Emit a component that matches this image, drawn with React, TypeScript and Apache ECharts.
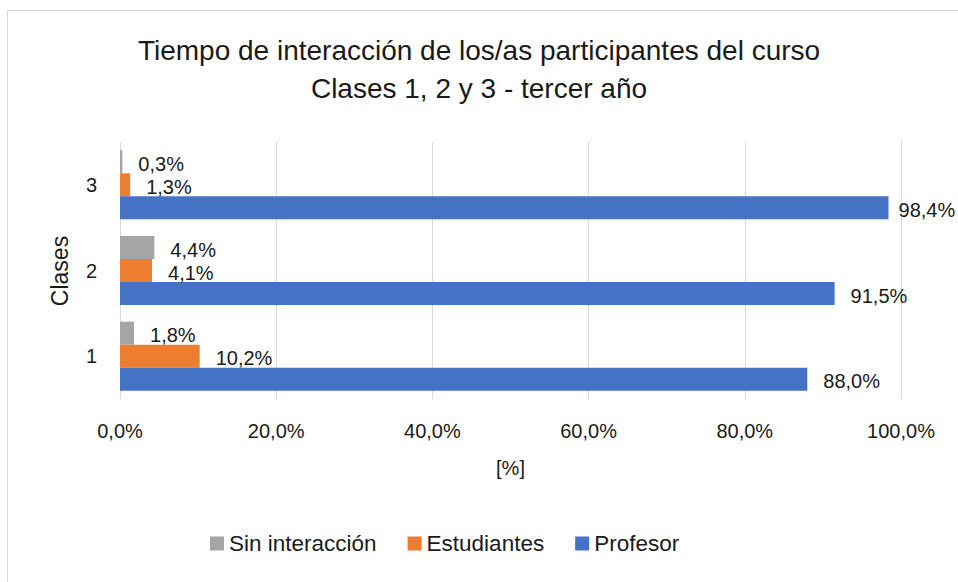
import React, { useEffect, useRef } from "react";
import * as echarts from "echarts";

const titleLines = ["Tiempo de interacción de los/as participantes del curso", "Clases 1, 2 y 3 - tercer año"];
const categories = ["1", "2", "3"];
const seriesNames = ["Sin interacción", "Estudiantes", "Profesor"];
const sinInteraccion = [1.8, 4.4, 0.3];
const estudiantes = [10.2, 4.1, 1.3];
const profesor = [88.0, 91.5, 98.4];
const seriesColors = ["#A5A5A5", "#ED7D31", "#4472C4"];
const xName = "[%]";
const yName = "Clases";

const FONT = "'Liberation Sans', Arial, sans-serif";
const TXT = "#1a1a1a";

const fmt = (v: number) => v.toFixed(1).replace(".", ",") + "%";

export default function App() {
  const ref = useRef<HTMLDivElement>(null);
  useEffect(() => {
    if (!ref.current) return;
    const chart = echarts.init(ref.current, undefined, { renderer: "svg" });
    const allSeries = [sinInteraccion, estudiantes, profesor];
    chart.setOption({
      animation: false,
      textStyle: { fontFamily: FONT },
      title: {
        text: titleLines.join("\n"),
        left: "center",
        top: 31,
        padding: 0,
        textStyle: { fontFamily: FONT, fontSize: 28, fontWeight: "normal", color: TXT, lineHeight: 38 },
      },
      graphic: [
        {
          type: "rect",
          shape: { x: 7.5, y: 10.5, width: 1000, height: 1000 },
          style: { fill: "none", stroke: "#d9d9d9", lineWidth: 1 },
          silent: true,
          z: -1,
        },
        {
          type: "text",
          x: 60,
          y: 271,
          rotation: Math.PI / 2,
          style: { text: yName, font: `23px ${FONT}`, fill: TXT, textAlign: "center", textVerticalAlign: "middle" },
        },
      ],
      legend: {
        data: seriesNames,
        left: 210,
        top: 532,
        padding: 0,
        itemWidth: 14,
        itemHeight: 14,
        itemGap: 31,
        icon: "rect",
        textStyle: { fontFamily: FONT, fontSize: 22.5, color: TXT, lineHeight: 22 },
      },
      grid: { left: 120, right: 57, top: 142, bottom: 183, containLabel: false },
      xAxis: {
        type: "value",
        min: 0,
        max: 100,
        interval: 20,
        name: xName,
        nameLocation: "middle",
        nameGap: 59,
        nameTextStyle: { fontFamily: FONT, fontSize: 20, color: TXT },
        axisLine: { show: false },
        axisTick: { show: false },
        axisLabel: { formatter: (v: number) => fmt(v), fontFamily: FONT, fontSize: 20, color: TXT, margin: 22 },
        splitLine: { show: true, lineStyle: { color: "#d9d9d9", width: 1 } },
      },
      yAxis: {
        type: "category",
        data: categories,
        axisLine: { show: false },
        axisTick: { show: false },
        axisLabel: { fontFamily: FONT, fontSize: 20, color: TXT, margin: 23 },
        splitLine: { show: false },
      },
      series: seriesNames.map((name, si) => ({
        name,
        type: "bar",
        barWidth: 23,
        barGap: "0%",
        itemStyle: { color: seriesColors[si] },
        label: {
          show: true,
          position: "right",
          distance: 16,
          offset: [0, 2],
          fontFamily: FONT,
          fontSize: 20,
          color: TXT,
          formatter: (p: any) => fmt(Number(p.value)),
        },
        data: allSeries[si].map((v) => (v > 95 ? { value: v, label: { distance: 10 } } : v)),
      })),
    });
    return () => chart.dispose();
  }, []);
  return <div ref={ref} style={{ position: "absolute", left: 0, top: 0, width: 958, height: 582, background: "#fff" }} />;
}
